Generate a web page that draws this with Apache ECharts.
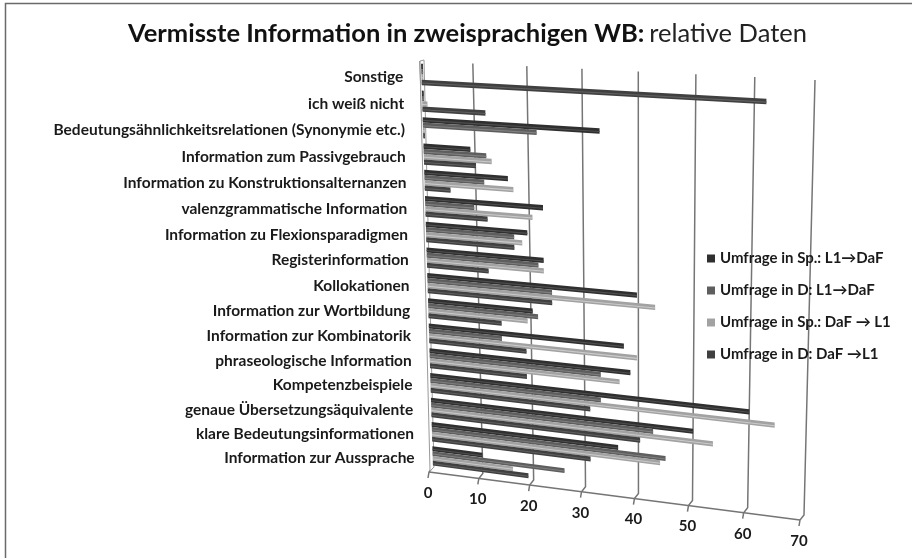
<!DOCTYPE html>
<html>
	<head>
		<meta charset="UTF-8">
		<title>Vermisste Information</title>
		<script src="https://cdn.jsdelivr.net/npm/echarts@6/dist/echarts.min.js"></script>
		<style>
			html, body { margin: 0; background: #fff; }
			#chart { width: 912px; height: 558px; }
		</style>
	</head>
	<body>
		<div id="chart"></div>
		<script>
		var categories = [
			'Sonstige', 'ich weiß nicht', 'Bedeutungsähnlichkeitsrelationen (Synonymie etc.)',
			'Information zum Passivgebrauch', 'Information zu Konstruktionsalternanzen',
			'valenzgrammatische Information', 'Information zu Flexionsparadigmen', 'Registerinformation',
			'Kollokationen', 'Information zur Wortbildung', 'Information zur Kombinatorik',
			'phraseologische Information', 'Kompetenzbeispiele', 'genaue Übersetzungsäquivalente',
			'klare Bedeutungsinformationen', 'Information zur Aussprache'
		];
		var xTicks = [0, 10, 20, 30, 40, 50, 60, 70];

		var spL1Daf = [0, 0, 33, 9, 16, 22.5, 19.5, 22.5, 39.7, 20.3, 37.3, 38.5, 60, 50, 36.2, 10];
		var deL1Daf = [0, 0, 21.5, 12, 11.5, 9.5, 17, 21.5, 24, 21.3, 14.3, 33, 33, 42.7, 45, 26];
		var spDafL1 = [0, 1, 0, 13, 17, 20.5, 18.5, 22.5, 43, 19.3, 39.7, 36.5, 64.5, 53.6, 44, 16];
		var deDafL1 = [62, 12, 0, 10, 5, 12, 17, 12, 24, 14.3, 19, 19, 31, 40.3, 31, 19];

		var names = ['Umfrage in Sp.: L1→DaF', 'Umfrage in D: L1→DaF', 'Umfrage in Sp.: DaF → L1', 'Umfrage in D: DaF →L1'];
		var colors = ['#2f2f2f', '#5e5e5e', '#a2a2a2', '#404040'];
		var shines = ['#505050', '#808080', '#cbcbcb', '#606060'];
		var FONT = 'Lato, sans-serif';

		// unit square -> picture quad, the original is a tilted 3d chart
		function makeQuad(tl, tr, br, bl) {
			var dx1 = tr[0] - br[0], dx2 = bl[0] - br[0], sx = tl[0] - tr[0] + br[0] - bl[0];
			var dy1 = tr[1] - br[1], dy2 = bl[1] - br[1], sy = tl[1] - tr[1] + br[1] - bl[1];
			var den = dx1 * dy2 - dx2 * dy1;
			var g = (sx * dy2 - dx2 * sy) / den;
			var h = (dx1 * sy - sx * dy1) / den;
			var a = tr[0] - tl[0] + g * tr[0], b = bl[0] - tl[0] + h * bl[0];
			var d = tr[1] - tl[1] + g * tr[1], e = bl[1] - tl[1] + h * bl[1];
			return function (u, v) {
				var w = g * u + h * v + 1;
				return [(a * u + b * v + tl[0]) / w, (d * u + e * v + tl[1]) / w];
			};
		}
		var wall = makeQuad([420, 61], [815, 80], [804, 515], [433, 467]);
		var barPlane = makeQuad([421, 61], [815, 81], [804, 517], [433, 468]);

		function unit(params, p) {
			var c = params.coordSys;
			return [(p[0] - c.x) / c.width, (p[1] - c.y) / c.height];
		}

		function renderBar(s) {
			return function (params, api) {
				var c = params.coordSys;
				var p = api.coord([api.value(0), api.value(1)]);
				var q = unit(params, p);
				var band = api.size([0, 1])[1] / c.height;
				var top = q[1] + ((s - 1.5) * 0.2 - 0.1) * band;
				var bot = top + 0.2 * band;
				var end = Math.max(q[0], 0.005);
				var mid1 = top + 0.1 * band, mid2 = top + 0.14 * band;
				return {
					type: 'group',
					children: [{
						type: 'polygon',
						shape: { points: [barPlane(0, top), barPlane(end, top), barPlane(end, bot), barPlane(0, bot)] },
						style: { fill: colors[s] }
					}, {
						type: 'polygon',
						shape: { points: [barPlane(0, mid1), barPlane(end, mid1), barPlane(end, mid2), barPlane(0, mid2)] },
						style: { fill: shines[s] }
					}]
				};
			};
		}

		function renderTick(params, api) {
			var u = unit(params, api.coord([api.value(0), 0]))[0];
			var base = wall(u, 1), front = [base[0] - 4, base[1] + 5];
			var lineStyle = { stroke: '#757575', lineWidth: 1.5, fill: null };
			var children = [{
				type: 'polyline',
				shape: { points: [wall(u, 0), base, front, [front[0] - 1, front[1] + 6]] },
				style: lineStyle
			}, {
				type: 'text',
				style: {
					text: String(api.value(0)), x: front[0] - 1, y: front[1] + 21,
					align: 'center', verticalAlign: 'middle',
					font: 'bold 15px ' + FONT, fill: '#1a1a1a'
				}
			}];
			if (params.dataIndex === 0) {
				var right = wall(1, 1);
				children.push({
					type: 'line',
					shape: { x1: base[0] - 4, y1: base[1] + 5, x2: right[0] - 4, y2: right[1] + 5 },
					style: { stroke: '#757575', lineWidth: 1.5 }
				});
				var lt = wall(0, 0);
				children.push({
					type: 'polygon',
					shape: { points: [lt, [lt[0] + 4, lt[1] - 1], [base[0] + 1, base[1]], [base[0] - 3, base[1] + 4]] },
					style: { stroke: '#9a9a9a', lineWidth: 1, fill: '#fff' }
				});
			}
			return { type: 'group', children: children };
		}

		function renderLabel(params, api) {
			var q = unit(params, api.coord([0, api.value(0)]));
			var p = barPlane(0, q[1]);
			return {
				type: 'text',
				style: {
					text: categories[params.dataIndex], x: p[0] - 18, y: p[1] + 2.5,
					align: 'right', verticalAlign: 'middle',
					font: 'bold 15.5px ' + FONT, fill: '#1a1a1a'
				}
			};
		}

		function barSeries(s, values) {
			return {
				type: 'custom',
				name: names[s],
				z: 3,
				clip: false,
				renderItem: renderBar(s),
				itemStyle: { color: colors[s] },
				encode: { x: 0, y: 1 },
				data: values.map(function (v, i) { return [v, i]; })
			};
		}

		var chart = echarts.init(document.getElementById('chart'));
		chart.setOption({
			animation: false,
			backgroundColor: '#fff',
			title: {
				left: 123, top: 16,
				text: '{b|Vermisste Information in zweisprachigen WB:} {n|relative Daten}',
				textStyle: {
					rich: {
						b: { fontFamily: FONT, fontWeight: 'bold', fontSize: 25.5, color: '#111' },
						n: { fontFamily: FONT, fontWeight: 'normal', fontSize: 25.5, color: '#222' }
					}
				}
			},
			legend: {
				orient: 'vertical',
				left: 702, top: 246,
				itemWidth: 8, itemHeight: 8, itemGap: 17,
				selectedMode: false,
				icon: 'rect',
				data: names,
				textStyle: { fontFamily: FONT, fontWeight: 'bold', fontSize: 15, color: '#1a1a1a' }
			},
			grid: { left: 421, top: 64, width: 390, height: 408 },
			xAxis: { type: 'value', min: 0, max: 70, interval: 10, show: false },
			yAxis: { type: 'category', inverse: true, data: categories, show: false },
			series: [{
				type: 'custom',
				name: 'ticks',
				z: 1,
				clip: false,
				silent: true,
				renderItem: renderTick,
				encode: { x: 0 },
				data: xTicks.map(function (t) { return [t]; })
			}, {
				type: 'custom',
				name: 'labels',
				z: 4,
				clip: false,
				silent: true,
				renderItem: renderLabel,
				encode: { y: 0 },
				data: categories.map(function (c, i) { return [i]; })
			},
			barSeries(0, spL1Daf),
			barSeries(1, deL1Daf),
			barSeries(2, spDafL1),
			barSeries(3, deDafL1)],
			graphic: [{
				type: 'polyline',
				silent: true,
				shape: { points: [[5.5, 558], [5.5, 3.5], [912, 3.5]] },
				style: { stroke: '#6a6a6a', lineWidth: 1.5, fill: null }
			}]
		});
		</script>
	</body>
</html>
